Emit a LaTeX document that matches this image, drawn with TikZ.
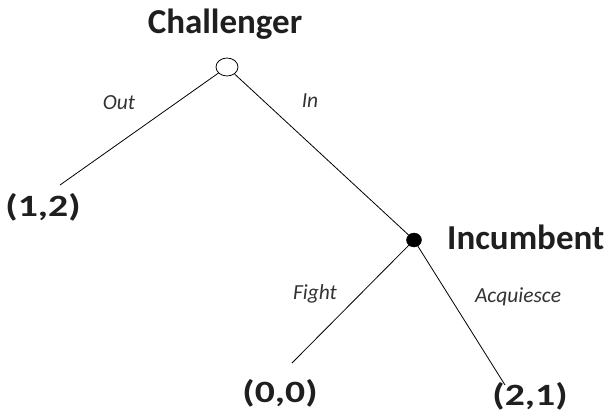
\documentclass[tikz,border=0pt]{standalone}
\usepackage{fontspec}
\usepackage{graphicx}
\setmainfont{Carlito}
\usetikzlibrary{shapes.geometric}
\newcommand{\widepay}[1]{\scalebox{1.28}[1]{#1}}
\tikzset{
  player/.style={font=\fontsize{35}{36}\selectfont\bfseries, text=black!88, inner sep=0pt},
  payoff/.style={font=\fontsize{31}{32}\selectfont\bfseries, text=black!88, inner sep=0pt},
  act/.style={font=\fontsize{21.5}{22}\selectfont\itshape, text=black!80, inner sep=0pt},
  branch/.style={draw=black, line width=0.8pt},
  opennode/.style={draw=black, line width=0.8pt, ellipse, minimum width=22pt, minimum height=18pt, inner sep=0pt, fill=white},
  filled/.style={draw=black, fill=black, ellipse, minimum width=15pt, minimum height=14pt, inner sep=0pt}
}
\begin{document}
\begin{tikzpicture}[x=1pt,y=-1pt]
\useasboundingbox (0,0) rectangle (615,413);
\node[opennode] (ch) at (227,67) {};
\node[filled] (inc) at (414,240) {};
\coordinate (e1) at (60,185);
\coordinate (e2) at (292,363);
\coordinate (e3) at (505,385);
\draw[branch] (ch) -- (e1);
\draw[branch] (ch) -- (inc);
\draw[branch] (inc) -- (e2);
\draw[branch] (inc) -- (e3);
\node[player] (chl) at (225,24) {Challenger};
\node[player, anchor=west] (incl) at (447,237) {Incumbent};
\node[payoff] (p1) at (43,207) {\widepay{(1,2)}};
\node[payoff] (p2) at (280,393) {\widepay{(0,0)}};
\node[payoff] (p3) at (530,396) {\widepay{(2,1)}};
\node[act] (lout) at (119,103) {Out};
\node[act] (lin) at (310,101) {In};
\node[act] (lf) at (315,294) {Fight};
\node[act] (la) at (518,297) {Acquiesce};
\end{tikzpicture}
\end{document}
